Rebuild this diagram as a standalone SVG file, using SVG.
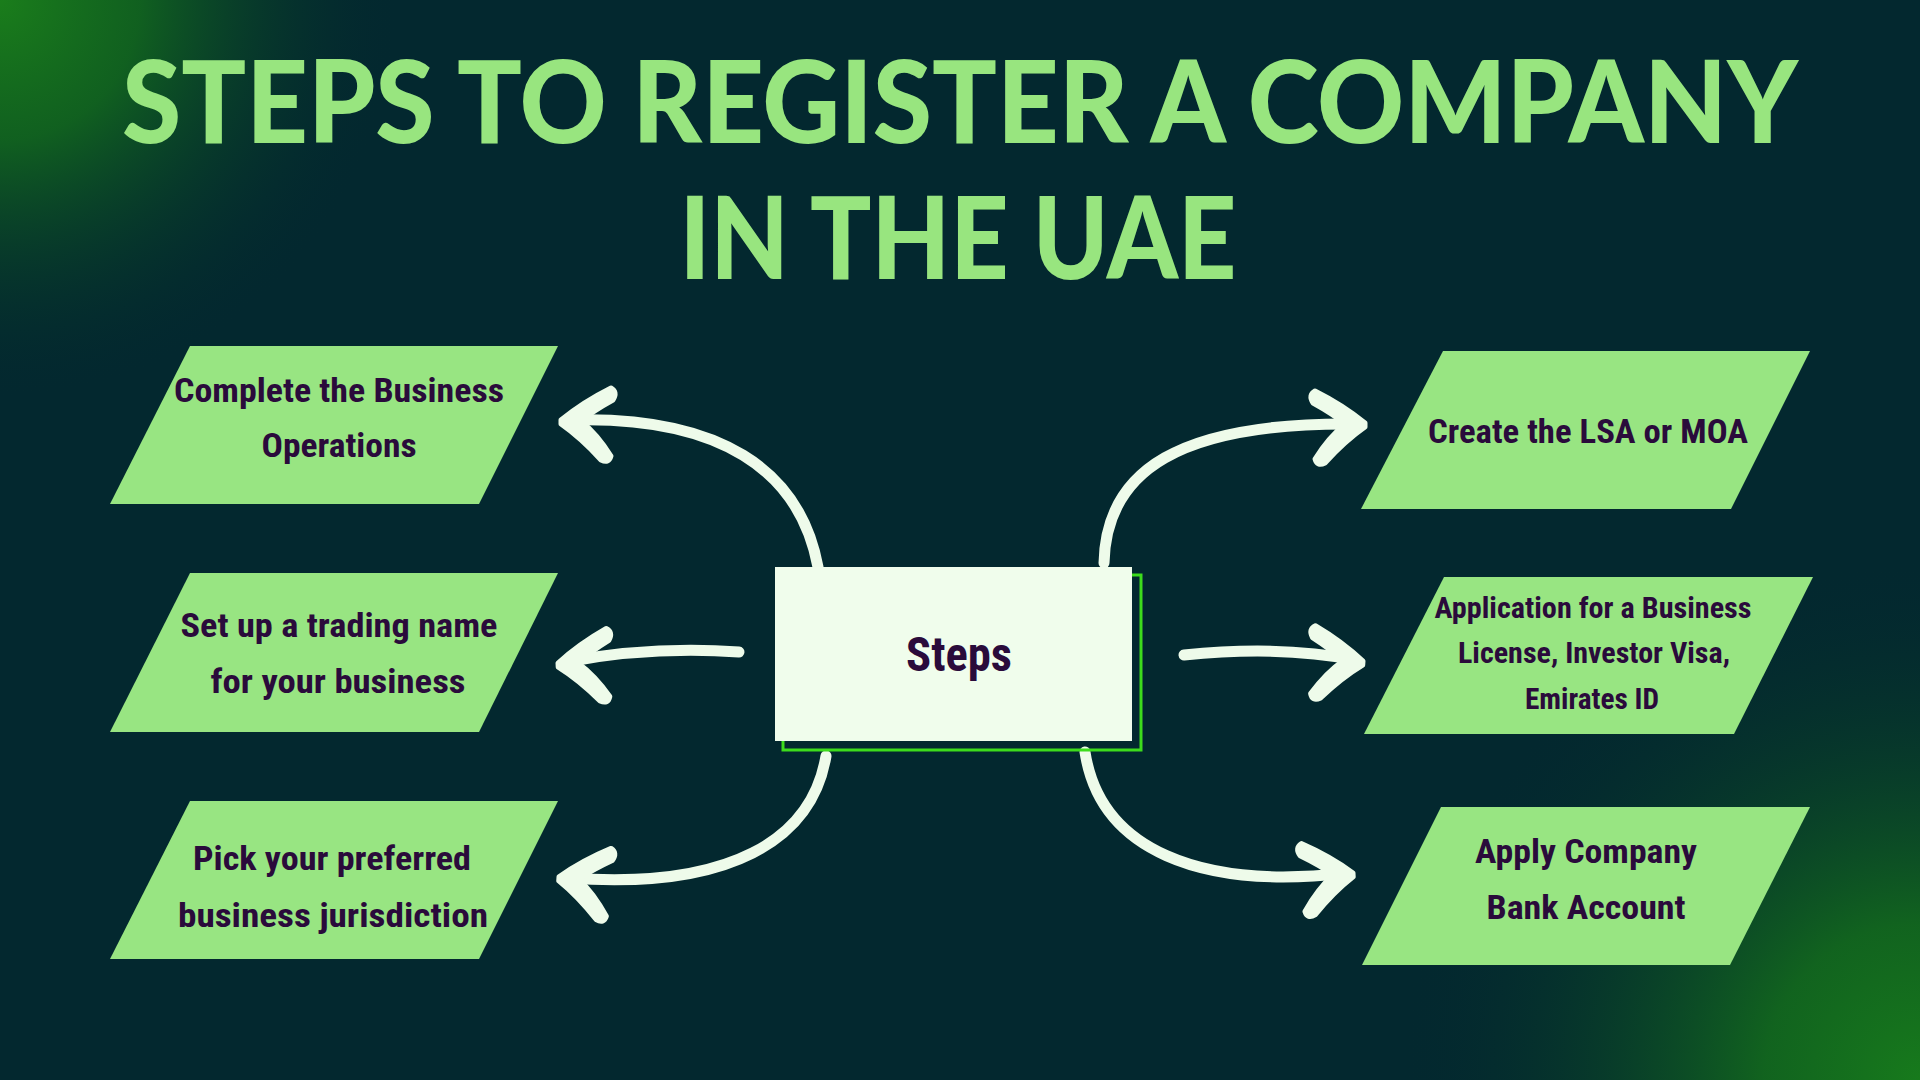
<svg xmlns="http://www.w3.org/2000/svg" xmlns:xlink="http://www.w3.org/1999/xlink" width="1920" height="1080" viewBox="0 0 1920 1080">
  <defs>
    <radialGradient id="gTL" cx="0" cy="0" r="400" gradientUnits="userSpaceOnUse">
      <stop offset="0" stop-color="#1a7d1b"/>
      <stop offset="0.35" stop-color="#136a1d" stop-opacity="0.85"/>
      <stop offset="1" stop-color="#03282f" stop-opacity="0"/>
    </radialGradient>
    <radialGradient id="gBR" cx="1920" cy="1080" r="520" gradientUnits="userSpaceOnUse">
      <stop offset="0" stop-color="#177a1c"/>
      <stop offset="0.3" stop-color="#136a1d" stop-opacity="0.9"/>
      <stop offset="1" stop-color="#03282f" stop-opacity="0"/>
    </radialGradient>
    <path id="ah" d="M 2,0 Q -20,-18 -48,-32 Q -55,-28 -50,-20 Q -30,-9 -18,1 Q -34,14 -48,36 Q -46,44 -38,40 Q -18,18 2,4 Z"/>
    <style>
      .node { fill: #98e582; }
      .lbl { font-family: "Roboto Condensed", "DejaVu Sans Condensed", "Roboto", "DejaVu Sans", sans-serif; font-weight: 700; fill: #2a0b3b; text-anchor: middle; }
      .title { font-family: "Lato", "Open Sans", sans-serif; font-weight: 900; fill: #98e57f; text-anchor: middle; }
      .shaft { fill: none; stroke: #eefbea; stroke-width: 11; stroke-linecap: round; }
      .head { fill: #eefbea; stroke: #eefbea; stroke-width: 5; stroke-linejoin: round; }
    </style>
  </defs>

  <rect x="0" y="0" width="1920" height="1080" fill="#03282f"/>
  <rect x="0" y="0" width="1920" height="1080" fill="url(#gTL)"/>
  <rect x="0" y="0" width="1920" height="1080" fill="url(#gBR)"/>

  <g id="title">
    <text class="title" x="960" y="143" font-size="115" textLength="1676" lengthAdjust="spacingAndGlyphs">STEPS TO REGISTER A COMPANY</text>
    <text class="title" x="958" y="279" font-size="115" textLength="557" lengthAdjust="spacingAndGlyphs">IN THE UAE</text>
  </g>

  <g id="connectors">
    <path class="shaft" d="M 818,567 C 800,470 720,415 568,420"/>
    <use href="#ah" class="head" transform="translate(563,420) scale(-1,1)"/>
    <path class="shaft" d="M 739,652 Q 650,646 566,662"/>
    <use href="#ah" class="head" transform="translate(560,663) scale(-1,1) rotate(3)"/>
    <path class="shaft" d="M 826,756 C 812,840 730,890 568,878"/>
    <use href="#ah" class="head" transform="translate(561,877) scale(-1,1) rotate(-4)"/>
    <path class="shaft" d="M 1104,563 C 1106,470 1180,422 1356,424"/>
    <use href="#ah" class="head" transform="translate(1363,423)"/>
    <path class="shaft" d="M 1184,655 Q 1280,645 1356,660"/>
    <use href="#ah" class="head" transform="translate(1361,661) rotate(4)"/>
    <path class="shaft" d="M 1085,752 C 1100,850 1200,890 1346,873"/>
    <use href="#ah" class="head" transform="translate(1351,873) rotate(-3)"/>
  </g>

  <g id="node-steps">
    <rect x="783" y="575" width="358" height="175" fill="none" stroke="#3ddc1c" stroke-width="3"/>
    <rect x="775" y="567" width="357" height="174" fill="#f0fdec"/>
    <text class="lbl" x="959" y="671" font-size="48" textLength="106" lengthAdjust="spacingAndGlyphs">Steps</text>
  </g>

  <g id="node-business-operations">
    <polygon class="node" points="190,346 558,346 479,504 110,504"/>
    <text class="lbl" x="339" y="402" font-size="34" textLength="330" lengthAdjust="spacingAndGlyphs">Complete the Business</text>
    <text class="lbl" x="339" y="457" font-size="34" textLength="155" lengthAdjust="spacingAndGlyphs">Operations</text>
  </g>

  <g id="node-trading-name">
    <polygon class="node" points="190,573 558,573 479,732 110,732"/>
    <text class="lbl" x="339" y="637" font-size="34" textLength="317" lengthAdjust="spacingAndGlyphs">Set up a trading name</text>
    <text class="lbl" x="338" y="693" font-size="34" textLength="255" lengthAdjust="spacingAndGlyphs">for your business</text>
  </g>

  <g id="node-jurisdiction">
    <polygon class="node" points="190,801 558,801 479,959 110,959"/>
    <text class="lbl" x="332" y="870" font-size="34" textLength="278" lengthAdjust="spacingAndGlyphs">Pick your preferred</text>
    <text class="lbl" x="333" y="927" font-size="34" textLength="310" lengthAdjust="spacingAndGlyphs">business jurisdiction</text>
  </g>

  <g id="node-lsa-moa">
    <polygon class="node" points="1443,351 1810,351 1731,509 1361,509"/>
    <text class="lbl" x="1588" y="443" font-size="34" textLength="320" lengthAdjust="spacingAndGlyphs">Create the LSA or MOA</text>
  </g>

  <g id="node-license">
    <polygon class="node" points="1444,577 1813,577 1734,734 1364,734"/>
    <text class="lbl" x="1593" y="618" font-size="29" textLength="317" lengthAdjust="spacingAndGlyphs">Application for a Business</text>
    <text class="lbl" x="1594" y="663" font-size="29" textLength="272" lengthAdjust="spacingAndGlyphs">License, Investor Visa,</text>
    <text class="lbl" x="1592" y="709" font-size="29" textLength="134" lengthAdjust="spacingAndGlyphs">Emirates ID</text>
  </g>

  <g id="node-bank-account">
    <polygon class="node" points="1441,807 1810,807 1730,965 1362,965"/>
    <text class="lbl" x="1586" y="863" font-size="34" textLength="222" lengthAdjust="spacingAndGlyphs">Apply Company</text>
    <text class="lbl" x="1586" y="919" font-size="34" textLength="199" lengthAdjust="spacingAndGlyphs">Bank Account</text>
  </g>
</svg>
